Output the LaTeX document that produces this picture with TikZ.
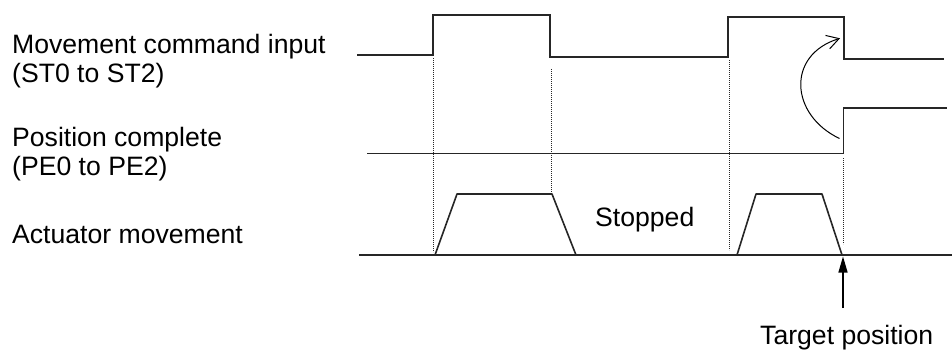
\documentclass[tikz,border=0pt]{standalone}
\usepackage{fontspec}
\setmainfont{Liberation Sans}
\usetikzlibrary{arrows.meta}
\tikzset{
  sig/.style={line width=1.8pt, color=black!85, line join=miter},
  motion/.style={line width=1.6pt, color=black!85, line join=round},
  guide/.style={line width=0.9pt, color=black!85, dash pattern=on 0.9pt off 1.1pt},
  lbl/.style={anchor=base west, inner sep=0pt, font=\fontsize{26.6}{30}\selectfont},
  curvearrow/.style={line width=1pt, -{Straight Barb[length=12pt,width=14pt,line width=1pt]}},
  tgtarrow/.style={line width=1.3pt, -{Triangle[length=16pt,width=9pt]}}
}
\begin{document}
\begin{tikzpicture}[x=1pt,y=-1pt]
\useasboundingbox (0,0) rectangle (952,350);
% labels
\node[lbl] (l1) at (12,53.5) {Movement command input};
\node[lbl] (l2) at (12,83) {(ST0 to ST2)};
\node[lbl] (l3) at (12,146.5) {Position complete};
\node[lbl] (l4) at (12,175.5) {(PE0 to PE2)};
\node[lbl] (l5) at (12,243.5) {Actuator movement};
\node[lbl] (stopped) at (595,226.5) {Stopped};
\node[lbl] (target) at (760,344) {Target position};
% dotted guides
\draw[guide] (433,58) -- (433,252);
\draw[guide] (551,69) -- (551,193);
\draw[guide] (729,60) -- (729,250);
\draw[guide] (843,158) -- (843,244);
% movement command input
\draw[sig] (357,55) -- (433,55) -- (433,15) -- (550,15) -- (550,57) -- (728,57) -- (728,17) -- (844,17) -- (844,59) -- (944,59);
% position complete
\draw[sig] (367,153.5) -- (843.5,153.5) -- (843.5,108.3) -- (946.5,108.3);
% actuator movement
\draw[sig] (359,255) -- (952,255);
\draw[motion] (435,255) -- (457,194) -- (552,194) -- (576,255);
\draw[motion] (737,255) -- (756,194) -- (822,194) -- (842,255);
% curved arrow
\coordinate (cs) at (839.5,138.5);
\coordinate (ce) at (840,38.3);
\draw[curvearrow] (cs) .. controls (790,115) and (786,55) .. (ce);
% target arrow
\coordinate (ts) at (843,308);
\coordinate (te) at (843,256.5);
\draw[tgtarrow] (ts) -- (te);
\end{tikzpicture}
\end{document}
